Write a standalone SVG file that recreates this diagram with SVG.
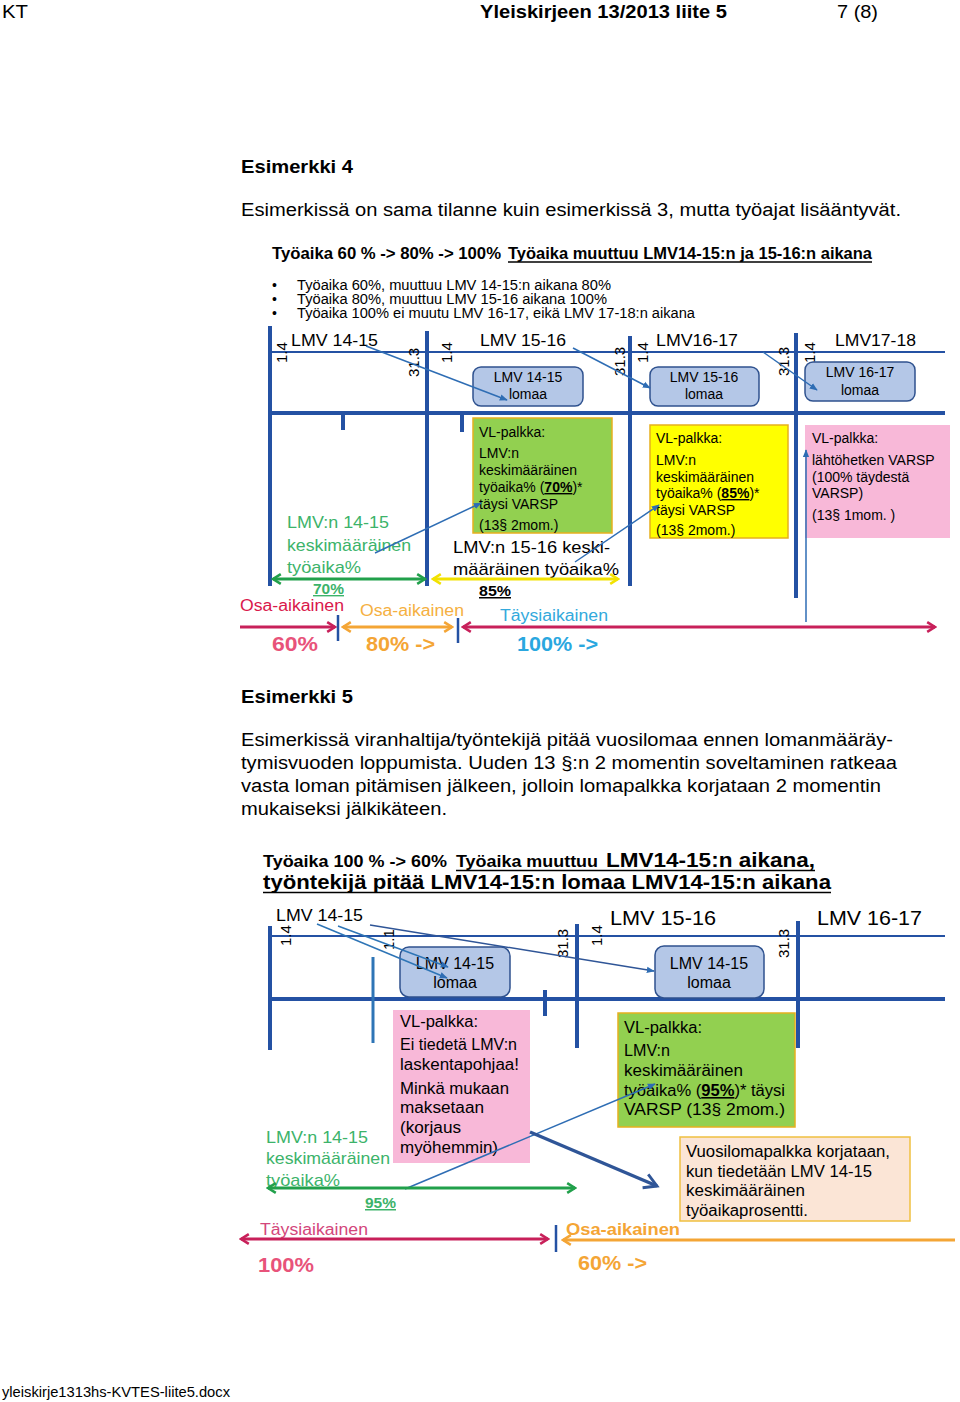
<svg xmlns="http://www.w3.org/2000/svg" width="960" height="1402" viewBox="0 0 960 1402">
<style>
text{font-family:"Liberation Sans",Arial,sans-serif;fill:#000}
.b{font-weight:bold}
.thick{stroke:#2451a3;stroke-width:4;fill:none}
.thin{stroke:#2451a3;stroke-width:2;fill:none}
.tick{stroke:#2e75b6;stroke-width:3;fill:none}
.lomaa{fill:#b4c7e7;stroke:#2f528f;stroke-width:1.5}
.box{stroke:#e6b01e;stroke-width:1.5}
.g{fill:#3cb36a}
.rot{font-size:15px}
.conn{stroke:#2e6db4;stroke-width:1.5;fill:none}
</style>
<defs>
<marker id="mBlue" viewBox="0 0 10 10" refX="9" refY="5" markerWidth="8" markerHeight="8" orient="auto" markerUnits="userSpaceOnUse"><path d="M0,1 L10,5 L0,9 Z" fill="#2e6db4"/></marker>
<marker id="mDark" viewBox="0 0 10 10" refX="8" refY="5" markerWidth="18" markerHeight="18" orient="auto" markerUnits="userSpaceOnUse"><path d="M1,1 L8,5 L1,9" fill="none" stroke="#2f5597" stroke-width="1.6"/></marker>
<marker id="mGreen" viewBox="0 0 10 10" refX="8.5" refY="5" markerWidth="12" markerHeight="12" orient="auto-start-reverse" markerUnits="userSpaceOnUse"><path d="M2,1 L8.5,5 L2,9" fill="none" stroke="#21a04b" stroke-width="2.2"/></marker>
<marker id="mYellow" viewBox="0 0 10 10" refX="8.5" refY="5" markerWidth="12" markerHeight="12" orient="auto-start-reverse" markerUnits="userSpaceOnUse"><path d="M2,1 L8.5,5 L2,9" fill="none" stroke="#f2e200" stroke-width="2.2"/></marker>
<marker id="mMag" viewBox="0 0 10 10" refX="8.5" refY="5" markerWidth="12" markerHeight="12" orient="auto-start-reverse" markerUnits="userSpaceOnUse"><path d="M2,1 L8.5,5 L2,9" fill="none" stroke="#c8205a" stroke-width="2.2"/></marker>
<marker id="mOrange" viewBox="0 0 10 10" refX="8.5" refY="5" markerWidth="12" markerHeight="12" orient="auto-start-reverse" markerUnits="userSpaceOnUse"><path d="M2,1 L8.5,5 L2,9" fill="none" stroke="#f4a535" stroke-width="2.2"/></marker>
</defs>
<rect width="960" height="1402" fill="#fff"/>

<!-- page header / text -->
<g id="header">
<text x="2" y="18" font-size="18" textLength="26" lengthAdjust="spacingAndGlyphs">KT</text>
<text x="480" y="18" font-size="18" class="b" textLength="247" lengthAdjust="spacingAndGlyphs">Yleiskirjeen 13/2013 liite 5</text>
<text x="837" y="18" font-size="18" textLength="41" lengthAdjust="spacingAndGlyphs">7 (8)</text>
</g>
<g id="ex4text">
<text x="241" y="173" font-size="18" class="b" textLength="112" lengthAdjust="spacingAndGlyphs">Esimerkki 4</text>
<text x="241" y="216" font-size="18" textLength="660" lengthAdjust="spacingAndGlyphs">Esimerkissä on sama tilanne kuin esimerkissä 3, mutta työajat lisääntyvät.</text>
</g>

<!-- ================= DIAGRAM 1 ================= -->
<g id="d1-title">
<text x="272" y="259" font-size="16" class="b" textLength="229" lengthAdjust="spacingAndGlyphs">Työaika 60 % -&gt; 80% -&gt; 100%</text>
<text x="508" y="259" font-size="16" class="b" textLength="364" lengthAdjust="spacingAndGlyphs">Työaika muuttuu LMV14-15:n ja 15-16:n aikana</text>
<line x1="508" y1="262" x2="872" y2="262" stroke="#000" stroke-width="1.3"/>
</g>
<g id="d1-bullets" font-size="14">
<text x="272" y="290">•</text><text x="297" y="290" textLength="314" lengthAdjust="spacingAndGlyphs">Työaika 60%, muuttuu LMV 14-15:n aikana 80%</text>
<text x="272" y="304">•</text><text x="297" y="304" textLength="310" lengthAdjust="spacingAndGlyphs">Työaika 80%, muuttuu LMV 15-16 aikana 100%</text>
<text x="272" y="318">•</text><text x="297" y="318" textLength="398" lengthAdjust="spacingAndGlyphs">Työaika 100% ei muutu LMV 16-17, eikä LMV 17-18:n aikana</text>
</g>

<g id="d1-timeline">
<line class="thin" x1="270" y1="352" x2="945" y2="352"/>
<line class="thick" x1="270" y1="413" x2="945" y2="413"/>
<line class="thick" x1="270" y1="326" x2="270" y2="586"/>
<line class="thick" x1="427" y1="331" x2="427" y2="586"/>
<line class="thick" x1="630" y1="336" x2="630" y2="586"/>
<line class="thick" x1="796" y1="333" x2="796" y2="598"/>
<line class="thick" x1="343" y1="413" x2="343" y2="430"/>
<line class="thick" x1="462" y1="413" x2="462" y2="432"/>
<text x="291" y="346" font-size="17" textLength="87" lengthAdjust="spacingAndGlyphs">LMV 14-15</text>
<text x="480" y="346" font-size="17" textLength="86" lengthAdjust="spacingAndGlyphs">LMV 15-16</text>
<text x="656" y="346" font-size="17" textLength="82" lengthAdjust="spacingAndGlyphs">LMV16-17</text>
<text x="835" y="346" font-size="17" textLength="81" lengthAdjust="spacingAndGlyphs">LMV17-18</text>
<text class="rot" transform="translate(287,363) rotate(-90)">1.4</text>
<text class="rot" transform="translate(419,377) rotate(-90)">31.3</text>
<text class="rot" transform="translate(452,363) rotate(-90)">1.4</text>
<text class="rot" transform="translate(625,376) rotate(-90)">31.3</text>
<text class="rot" transform="translate(648,363) rotate(-90)">1.4</text>
<text class="rot" transform="translate(789,376) rotate(-90)">31.3</text>
<text class="rot" transform="translate(815,363) rotate(-90)">1.4</text>
</g>

<g id="d1-lomaa1"><rect class="lomaa" x="473" y="367" width="110" height="39" rx="8"/>
<text x="528" y="382" font-size="14" text-anchor="middle">LMV 14-15</text><text x="528" y="399" font-size="14" text-anchor="middle">lomaa</text></g>
<g id="d1-lomaa2"><rect class="lomaa" x="650" y="367" width="109" height="39" rx="8"/>
<text x="704" y="382" font-size="14" text-anchor="middle">LMV 15-16</text><text x="704" y="399" font-size="14" text-anchor="middle">lomaa</text></g>
<g id="d1-lomaa3"><rect class="lomaa" x="805" y="362" width="110" height="39" rx="8"/>
<text x="860" y="377" font-size="14" text-anchor="middle">LMV 16-17</text><text x="860" y="395" font-size="14" text-anchor="middle">lomaa</text></g>

<g id="d1-green" font-size="14">
<rect class="box" x="473" y="418" width="139" height="115" fill="#92d050"/>
<text x="479" y="437">VL-palkka:</text>
<text x="479" y="458">LMV:n</text>
<text x="479" y="475">keskimääräinen</text>
<text x="479" y="492">työaika% (<tspan text-decoration="underline" font-weight="bold">70%</tspan>)*</text>
<text x="479" y="509">täysi VARSP</text>
<text x="479" y="530">(13§ 2mom.)</text>
</g>
<g id="d1-yellow" font-size="14">
<rect class="box" x="650" y="425" width="138" height="113" fill="#ffff00"/>
<text x="656" y="443">VL-palkka:</text>
<text x="656" y="465">LMV:n</text>
<text x="656" y="482">keskimääräinen</text>
<text x="656" y="498">työaika% (<tspan text-decoration="underline" font-weight="bold">85%</tspan>)*</text>
<text x="656" y="515">täysi VARSP</text>
<text x="656" y="535">(13§ 2mom.)</text>
</g>
<g id="d1-pink" font-size="14">
<rect x="805" y="425" width="145" height="113" fill="#f8b8d8"/>
<text x="812" y="443">VL-palkka:</text>
<text x="812" y="465">lähtöhetken VARSP</text>
<text x="812" y="482">(100% täydestä</text>
<text x="812" y="498">VARSP)</text>
<text x="812" y="520">(13§ 1mom.  )</text>
</g>

<g id="d1-labels">
<text x="287" y="528" font-size="17" class="g" textLength="102" lengthAdjust="spacingAndGlyphs">LMV:n 14-15</text>
<text x="287" y="551" font-size="17" class="g" textLength="124" lengthAdjust="spacingAndGlyphs">keskimääräinen</text>
<text x="287" y="573" font-size="17" class="g" textLength="74" lengthAdjust="spacingAndGlyphs">työaika%</text>
<text x="453" y="553" font-size="17" textLength="157" lengthAdjust="spacingAndGlyphs">LMV:n 15-16 keski-</text>
<text x="453" y="575" font-size="17" textLength="166" lengthAdjust="spacingAndGlyphs">määräinen  työaika%</text>
<text x="313" y="594" font-size="14" class="g b" text-decoration="underline" textLength="31" lengthAdjust="spacingAndGlyphs">70%</text>
<text x="479" y="596" font-size="15" class="b" text-decoration="underline" textLength="32" lengthAdjust="spacingAndGlyphs">85%</text>
<text x="240" y="611" font-size="16" style="fill:#d9184b" textLength="104" lengthAdjust="spacingAndGlyphs">Osa-aikainen</text>
<text x="360" y="616" font-size="16" style="fill:#f5b041" textLength="104" lengthAdjust="spacingAndGlyphs">Osa-aikainen</text>
<text x="500" y="621" font-size="16" style="fill:#33a9dc" textLength="108" lengthAdjust="spacingAndGlyphs">Täysiaikainen</text>
<text x="272" y="651" font-size="20" class="b" style="fill:#e8537a" textLength="46" lengthAdjust="spacingAndGlyphs">60%</text>
<text x="366" y="651" font-size="20" class="b" style="fill:#f4a535" textLength="69" lengthAdjust="spacingAndGlyphs">80% -&gt;</text>
<text x="517" y="651" font-size="20" class="b" style="fill:#2aa7df" textLength="81" lengthAdjust="spacingAndGlyphs">100% -&gt;</text>
</g>

<g id="d1-connectors">
<line class="conn" x1="366" y1="346" x2="507" y2="400" marker-end="url(#mBlue)"/>
<line class="conn" x1="573" y1="348" x2="650" y2="388" marker-end="url(#mBlue)"/>
<line class="conn" x1="763" y1="352" x2="817" y2="390" marker-end="url(#mBlue)"/>
<line class="conn" x1="375" y1="553" x2="481" y2="503" marker-end="url(#mBlue)"/>
<line class="conn" x1="575" y1="562" x2="659" y2="505" marker-end="url(#mBlue)"/>
<line class="conn" x1="806" y1="622" x2="806" y2="450" marker-end="url(#mBlue)"/>
<line x1="273" y1="579" x2="425" y2="579" stroke="#21a04b" stroke-width="3" marker-start="url(#mGreen)" marker-end="url(#mGreen)"/>
<line x1="433" y1="579" x2="618" y2="579" stroke="#f2e200" stroke-width="3" marker-start="url(#mYellow)" marker-end="url(#mYellow)"/>
<line x1="240" y1="627" x2="335" y2="627" stroke="#c8205a" stroke-width="3" marker-end="url(#mMag)"/>
<line x1="343" y1="627" x2="452" y2="627" stroke="#f4a535" stroke-width="3" marker-start="url(#mOrange)" marker-end="url(#mOrange)"/>
<line x1="463" y1="627" x2="935" y2="627" stroke="#c8205a" stroke-width="3" marker-start="url(#mMag)" marker-end="url(#mMag)"/>
<line x1="338" y1="615" x2="338" y2="641" stroke="#2451a3" stroke-width="2.5"/>
<line x1="458" y1="618" x2="458" y2="643" stroke="#2451a3" stroke-width="2.5"/>
</g>

<!-- Esimerkki 5 -->
<g id="ex5text" font-size="18">
<text x="241" y="703" class="b" textLength="112" lengthAdjust="spacingAndGlyphs">Esimerkki 5</text>
<text x="241" y="746" textLength="652" lengthAdjust="spacingAndGlyphs">Esimerkissä viranhaltija/työntekijä pitää vuosilomaa ennen lomanmääräy-</text>
<text x="241" y="769" textLength="656" lengthAdjust="spacingAndGlyphs">tymisvuoden loppumista. Uuden 13 §:n 2 momentin soveltaminen ratkeaa</text>
<text x="241" y="792" textLength="640" lengthAdjust="spacingAndGlyphs">vasta loman pitämisen jälkeen, jolloin lomapalkka korjataan 2 momentin</text>
<text x="241" y="815" textLength="206" lengthAdjust="spacingAndGlyphs">mukaiseksi jälkikäteen.</text>
</g>

<!-- ================= DIAGRAM 2 ================= -->
<g id="d2-title" class="b">
<text x="263" y="867" font-size="16" class="b" textLength="184" lengthAdjust="spacingAndGlyphs">Työaika 100 % -&gt; 60%</text>
<text x="456" y="867" font-size="16" class="b" textLength="142" lengthAdjust="spacingAndGlyphs">Työaika muuttuu</text>
<text x="606" y="867" font-size="20" class="b" textLength="209" lengthAdjust="spacingAndGlyphs">LMV14-15:n  aikana,</text>
<text x="263" y="889" font-size="20" class="b" textLength="568" lengthAdjust="spacingAndGlyphs">työntekijä pitää LMV14-15:n  lomaa LMV14-15:n aikana</text>
<line x1="456" y1="870.5" x2="815" y2="870.5" stroke="#000" stroke-width="1.5"/>
<line x1="263" y1="892.5" x2="831" y2="892.5" stroke="#000" stroke-width="1.5"/>
</g>

<g id="d2-timeline">
<line class="thin" x1="270" y1="936" x2="945" y2="936"/>
<line class="thick" x1="270" y1="999" x2="945" y2="999"/>
<line class="thick" x1="270" y1="926" x2="270" y2="1050"/>
<line class="thick" x1="577" y1="924" x2="577" y2="1048"/>
<line class="thick" x1="798" y1="921" x2="798" y2="1048"/>
<line class="tick" x1="373" y1="957" x2="373" y2="1043"/>
<line class="thick" x1="545" y1="990" x2="545" y2="1016"/>
<text x="276" y="921" font-size="17" textLength="87" lengthAdjust="spacingAndGlyphs">LMV 14-15</text>
<text x="610" y="925" font-size="21" textLength="106" lengthAdjust="spacingAndGlyphs">LMV 15-16</text>
<text x="817" y="925" font-size="21" textLength="105" lengthAdjust="spacingAndGlyphs">LMV 16-17</text>
<text class="rot" transform="translate(291,946) rotate(-90)">1.4</text>
<text class="rot" transform="translate(394,950) rotate(-90)">1.1</text>
<text class="rot" transform="translate(568,958) rotate(-90)">31.3</text>
<text class="rot" transform="translate(602,946) rotate(-90)">1.4</text>
<text class="rot" transform="translate(789,958) rotate(-90)">31.3</text>
</g>

<g id="d2-lomaa1"><rect class="lomaa" x="400" y="947" width="110" height="50" rx="9"/>
<text x="455" y="969" font-size="16" text-anchor="middle">LMV 14-15</text><text x="455" y="988" font-size="16" text-anchor="middle">lomaa</text></g>
<g id="d2-lomaa2"><rect class="lomaa" x="655" y="946" width="109" height="52" rx="9"/>
<text x="709" y="969" font-size="16" text-anchor="middle">LMV 14-15</text><text x="709" y="988" font-size="16" text-anchor="middle">lomaa</text></g>

<g id="d2-pink" font-size="16">
<rect x="393" y="1010" width="137" height="153" fill="#f8b8d8"/>
<text x="400" y="1027" textLength="78" lengthAdjust="spacingAndGlyphs">VL-palkka:</text>
<text x="400" y="1050" textLength="117" lengthAdjust="spacingAndGlyphs">Ei tiedetä LMV:n</text>
<text x="400" y="1070" textLength="119" lengthAdjust="spacingAndGlyphs">laskentapohjaa!</text>
<text x="400" y="1094" textLength="109" lengthAdjust="spacingAndGlyphs">Minkä mukaan</text>
<text x="400" y="1113" textLength="84" lengthAdjust="spacingAndGlyphs">maksetaan</text>
<text x="400" y="1133" textLength="61" lengthAdjust="spacingAndGlyphs">(korjaus</text>
<text x="400" y="1153" textLength="98" lengthAdjust="spacingAndGlyphs">myöhemmin)</text>
</g>
<g id="d2-green" font-size="16">
<rect class="box" x="618" y="1013" width="177" height="114" fill="#92d050"/>
<text x="624" y="1033" textLength="78" lengthAdjust="spacingAndGlyphs">VL-palkka:</text>
<text x="624" y="1056" textLength="46" lengthAdjust="spacingAndGlyphs">LMV:n</text>
<text x="624" y="1076" textLength="119" lengthAdjust="spacingAndGlyphs">keskimääräinen</text>
<text x="624" y="1096" textLength="161" lengthAdjust="spacingAndGlyphs">työaika% (<tspan text-decoration="underline" font-weight="bold">95%</tspan>)* täysi</text>
<text x="624" y="1115" textLength="161" lengthAdjust="spacingAndGlyphs">VARSP  (13§ 2mom.)</text>
</g>
<g id="d2-peach" font-size="16">
<rect x="680" y="1137" width="230" height="84" fill="#fbe5d6" stroke="#f0c040" stroke-width="1.5"/>
<text x="686" y="1157" textLength="204" lengthAdjust="spacingAndGlyphs">Vuosilomapalkka korjataan,</text>
<text x="686" y="1177" textLength="186" lengthAdjust="spacingAndGlyphs">kun tiedetään LMV 14-15</text>
<text x="686" y="1196" textLength="119" lengthAdjust="spacingAndGlyphs">keskimääräinen</text>
<text x="686" y="1216" textLength="122" lengthAdjust="spacingAndGlyphs">työaikaprosentti.</text>
</g>

<g id="d2-labels">
<text x="266" y="1143" font-size="17" class="g" textLength="102" lengthAdjust="spacingAndGlyphs">LMV:n 14-15</text>
<text x="266" y="1164" font-size="17" class="g" textLength="124" lengthAdjust="spacingAndGlyphs">keskimääräinen</text>
<text x="266" y="1186" font-size="17" class="g" textLength="74" lengthAdjust="spacingAndGlyphs">työaika%</text>
<text x="365" y="1208" font-size="15" class="g b" text-decoration="underline" textLength="31" lengthAdjust="spacingAndGlyphs">95%</text>
<text x="260" y="1235" font-size="16" style="fill:#d3467b" textLength="108" lengthAdjust="spacingAndGlyphs">Täysiaikainen</text>
<text x="566" y="1235" font-size="17" class="b" style="fill:#f4a535" textLength="114" lengthAdjust="spacingAndGlyphs">Osa-aikainen</text>
<text x="258" y="1272" font-size="20" class="b" style="fill:#e8537a" textLength="56" lengthAdjust="spacingAndGlyphs">100%</text>
<text x="578" y="1270" font-size="20" class="b" style="fill:#f4a535" textLength="69" lengthAdjust="spacingAndGlyphs">60% -&gt;</text>
</g>

<g id="d2-connectors">
<line x1="317" y1="924" x2="447" y2="978" stroke="#2e75b6" stroke-width="1.5" marker-end="url(#mBlue)"/>
<line x1="338" y1="926" x2="448" y2="967" stroke="#2e75b6" stroke-width="1.5" marker-end="url(#mBlue)"/>
<line x1="370" y1="925" x2="654" y2="971" stroke="#2f5597" stroke-width="1.5" marker-end="url(#mBlue)"/>
<line x1="405" y1="1189" x2="655" y2="1084" class="conn" marker-end="url(#mBlue)"/>
<line x1="530" y1="1132" x2="657" y2="1186" stroke="#2f5597" stroke-width="3.5" marker-end="url(#mDark)"/>
<line x1="268" y1="1188" x2="575" y2="1188" stroke="#21a04b" stroke-width="3" marker-start="url(#mGreen)" marker-end="url(#mGreen)"/>
<line x1="241" y1="1239" x2="548" y2="1239" stroke="#c8205a" stroke-width="3" marker-start="url(#mMag)" marker-end="url(#mMag)"/>
<line x1="563" y1="1240" x2="955" y2="1240" stroke="#f4a535" stroke-width="3" marker-start="url(#mOrange)"/>
<line x1="556" y1="1225" x2="556" y2="1252" stroke="#2451a3" stroke-width="2.5"/>
</g>

<g id="footer">
<text x="2" y="1397" font-size="14" textLength="228" lengthAdjust="spacingAndGlyphs">yleiskirje1313hs-KVTES-liite5.docx</text>
</g>
</svg>
